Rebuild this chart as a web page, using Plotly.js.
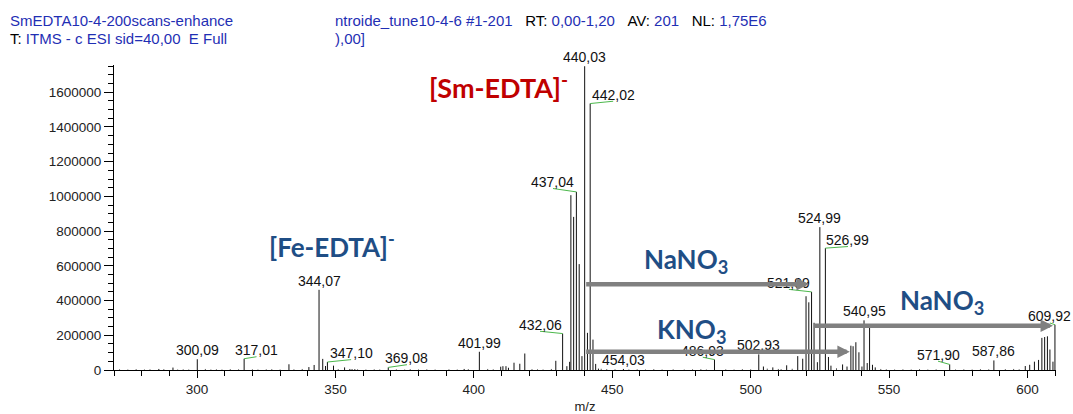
<!DOCTYPE html>
<html><head><meta charset="utf-8">
<script src="https://cdn.plot.ly/plotly-3.0.1.min.js"></script>
<style>html,body{margin:0;padding:0;background:#fff}#chart{width:1073px;height:414px}</style>
</head><body><div id="chart"></div>
<script>
// ---- data (m/z, intensity) ----
const peakMz = [286.2, 291.3, 300.09, 317.01, 333.2, 340.4, 342.3, 344.07, 345.4, 346.4, 347.10, 349.3, 353.3, 355.2, 356.0, 357.0,
  369.08, 396.5, 401.99, 409.7, 410.5, 411.6, 412.5, 414.5, 416.6, 418.4, 429.6, 432.06, 433.6, 434.6,
  435.05, 436.05, 437.04, 438.05, 439.05, 440.03, 441.04, 442.02, 443.03, 444.0, 445.0, 454.03,
  486.93, 502.93, 504.6, 508.0, 513.0, 517.0, 518.8, 520.0, 521.0, 521.99, 522.9, 524.1, 524.99, 526.99, 528.1, 529.0,
  533.2, 534.8, 536.2, 537.0, 538.0, 539.1, 540.2, 540.95, 542.1, 542.95, 544.0, 545.0,
  571.90, 587.86, 599.2, 600.8, 602.5, 604.0, 605.2, 606.2, 607.2, 608.1, 609.2, 609.92];
const peakInt = [6000, 14000, 62000, 65000, 33000, 17000, 29000, 462000, 64000, 23000, 46000, 25000, 15000, 6000, 5000, 5000,
  15000, 6000, 105000, 19000, 22000, 22000, 13000, 42000, 36000, 95000, 53000, 210000, 22000, 47000,
  1007000, 882000, 1026000, 610000, 80000, 1750000, 214000, 1535000, 175000, 35000, 8000, 6000,
  60000, 90000, 20000, 15000, 27000, 80000, 65000, 425000, 390000, 450000, 272000, 45000, 823000, 702000, 75000, 25000,
  32000, 20000, 140000, 137000, 160000, 102000, 20000, 286000, 40000, 248000, 30000, 15000,
  32000, 55000, 23000, 30000, 48000, 58000, 185000, 190000, 194000, 118000, 48000, 261000];
// low-level baseline sticks
const minorMz = [272, 275, 278, 281, 283, 288, 293, 295, 297, 303,
  305, 307, 309, 312, 315, 320, 322, 325, 327, 330,
  335, 338, 351, 358, 361, 364, 366, 372, 375, 377,
  380, 383, 386, 391, 394, 398, 405, 407, 421, 423,
  425, 428, 446, 448, 451, 456, 459, 462, 465, 468,
  472, 476, 479, 482, 484, 491, 494, 497, 500, 506,
  510, 511, 515, 531, 547, 549, 552, 555, 558, 561,
  564, 567, 574, 577, 580, 583, 586, 592, 595, 597];
const minorInt = [4000, 3000, 5000, 3000, 4000, 5000, 3000, 4000, 3000, 6000,
  3000, 4000, 3000, 5000, 4000, 4000, 3000, 4000, 5000, 3000,
  4000, 6000, 5000, 4000, 3000, 4000, 3000, 4000, 3000, 5000,
  3000, 4000, 3000, 4000, 3000, 5000, 6000, 4000, 5000, 4000,
  3000, 6000, 7000, 5000, 4000, 3000, 4000, 3000, 5000, 3000,
  4000, 3000, 4000, 5000, 3000, 4000, 3000, 5000, 4000, 8000,
  6000, 5000, 7000, 10000, 6000, 4000, 3000, 4000, 3000, 5000,
  3000, 4000, 3000, 4000, 3000, 5000, 4000, 5000, 6000, 4000];
// labelled peaks
const labelMz = [300.09, 317.01, 344.07, 347.10, 369.08, 401.99, 432.06, 437.04, 440.03, 442.02,
  454.03, 486.93, 502.93, 521.99, 524.99, 526.99, 540.95, 571.90, 587.86, 609.92];
// neutral-loss arrows (from m/z, to m/z, drawn at intensity level)
const arrowFrom = [440.03, 440.03, 522.7];
const arrowTo = [521.0, 535.8, 609.2];
const arrowLevel = [494000, 105000, 255000];
const arrowNames = ['NaNO<sub>3</sub>', 'KNO<sub>3</sub>', 'NaNO<sub>3</sub>'];

// ---- layout helpers (pixel placement) ----
const labelDx = [0, 12.4, 0, 23.7, 18.7, 0, -22.6, -23.4, 0, 23, 0, -11.7, 0, -22.7, 0, 22.6, 0, -11.7, 0, -5];
const leadDy = [null, 2, null, 2.4, 2.7, null, 2.3, 3.4, null, 2.3, null, 2.3, null, 2.5, null, 1.6, null, 3.3, null, 1.7];
const PL = 114, PT = 65, PW = 942, PH = 305;
const pxX = x => (x - PL) / PW;
const pxY = y => (PT + PH - y) / PH;

function sticks(mz, it) {
  const x = [], y = [];
  mz.forEach((m, i) => { x.push(m, m, null); y.push(0, it[i], null); });
  return {x, y};
}
const s1 = sticks(peakMz, peakInt), s2 = sticks(minorMz, minorInt);
const traces = [
  {type: 'scatter', mode: 'lines', x: s2.x, y: s2.y, line: {color: '#555', width: 1}, hoverinfo: 'skip', showlegend: false},
  {type: 'scatter', mode: 'lines', x: s1.x, y: s1.y, line: {color: '#111', width: 1}, hoverinfo: 'skip', showlegend: false}
];

const BLUE = '#1f2fb4';
const F = 'Liberation Sans, Arial, sans-serif';
const annotations = [];
const shapes = [];

labelMz.forEach((m, i) => {
  const idx = peakMz.indexOf(m);
  const v = peakInt[idx];
  const txt = m.toFixed(2).replace('.', ',');
  const lead = leadDy[i] !== null;
  annotations.push({x: m, y: v, xref: 'x', yref: 'y', text: txt, showarrow: false,
    xanchor: 'center', yanchor: 'middle', xshift: labelDx[i], yshift: lead ? leadDy[i] + 6.5 : 9,
    font: {family: F, size: 14, color: '#111'}});
  if (lead) {
    shapes.push({type: 'line', xref: 'x', yref: 'y', xsizemode: 'pixel', ysizemode: 'pixel',
      xanchor: m, yanchor: v, x0: 0, y0: 0, x1: labelDx[i], y1: leadDy[i],
      line: {color: '#4cb84c', width: 1}});
  }
});

// header
annotations.push({xref: 'paper', yref: 'paper', x: pxX(8), y: pxY(20), xanchor: 'left', yanchor: 'middle', showarrow: false,
  text: 'SmEDTA10-4-200scans-enhance', font: {family: F, size: 15, color: BLUE}});
annotations.push({xref: 'paper', yref: 'paper', x: pxX(333), y: pxY(20), xanchor: 'left', yanchor: 'middle', showarrow: false,
  text: 'ntroide_tune10-4-6 #1-201\u00a0\u00a0\u00a0<span style="color:#000">RT:</span> 0,00-1,20\u00a0\u00a0\u00a0<span style="color:#000">AV:</span> 201\u00a0\u00a0\u00a0<span style="color:#000">NL:</span> 1,75E6',
  font: {family: F, size: 15, color: BLUE}});
annotations.push({xref: 'paper', yref: 'paper', x: pxX(8), y: pxY(38), xanchor: 'left', yanchor: 'middle', showarrow: false,
  text: '<span style="color:#000">T:</span> ITMS - c ESI sid=40,00\u00a0\u00a0E Full', font: {family: F, size: 15, color: BLUE}});
annotations.push({xref: 'paper', yref: 'paper', x: pxX(333), y: pxY(38), xanchor: 'left', yanchor: 'middle', showarrow: false,
  text: '),00]', font: {family: F, size: 15, color: BLUE}});

// arrows
arrowFrom.forEach((a, i) => {
  annotations.push({x: arrowTo[i], y: arrowLevel[i], ax: a, ay: arrowLevel[i], xref: 'x', yref: 'y', axref: 'x', ayref: 'y',
    text: '', showarrow: true, arrowhead: 2, arrowsize: 0.55, arrowwidth: 4.5, arrowcolor: '#808080', standoff: 0});
});

// ion labels
const BF = 'Lato, Open Sans, sans-serif';
annotations.push({xref: 'paper', yref: 'paper', x: pxX(427), y: pxY(86), xanchor: 'left', yanchor: 'middle', showarrow: false,
  text: '[Sm-EDTA]<sup>-</sup>', font: {family: BF, size: 27, weight: 700, color: '#c00000'}});
annotations.push({xref: 'paper', yref: 'paper', x: pxX(267), y: pxY(245), xanchor: 'left', yanchor: 'middle', showarrow: false,
  text: '[Fe-EDTA]<sup>-</sup>', font: {family: BF, size: 26, weight: 700, color: '#1f4e85'}});
const ionPos = [[642, 260], [655, 330], [898, 301]];
arrowNames.forEach((t, i) => {
  annotations.push({xref: 'paper', yref: 'paper', x: pxX(ionPos[i][0]), y: pxY(ionPos[i][1]), xanchor: 'left', yanchor: 'middle', showarrow: false,
    text: t, font: {family: BF, size: 26, weight: 700, color: '#1f4e85'}});
});

const axisFont = {family: F, size: 13.5, color: '#222'};
const layout = {
  width: 1073, height: 414,
  margin: {l: PL, r: 1073 - PL - PW, t: PT, b: 414 - PT - PH},
  paper_bgcolor: '#fff', plot_bgcolor: '#fff',
  showlegend: false,
  xaxis: {range: [270, 610.3], showline: true, linecolor: '#000', linewidth: 1, ticks: 'outside', ticklen: 7, tickcolor: '#000',
    tick0: 0, dtick: 50, showgrid: false, zeroline: false, tickfont: axisFont,
    minor: {dtick: 10, ticks: 'outside', ticklen: 5, tickcolor: '#000', showgrid: false},
    title: {text: 'm/z', font: {family: F, size: 13, color: '#222'}, standoff: 5}},
  yaxis: {range: [0, 1757000], showline: true, linecolor: '#000', linewidth: 1, ticks: 'outside', ticklen: 9, tickcolor: '#000',
    tick0: 0, dtick: 200000, tickformat: 'd', showgrid: false, zeroline: false, tickfont: axisFont,
    minor: {dtick: 50000, ticks: 'outside', ticklen: 5, tickcolor: '#000', showgrid: false}},
  annotations: annotations,
  shapes: shapes
};
Plotly.newPlot('chart', traces, layout, {displayModeBar: false, staticPlot: true});
</script>
</body></html>
